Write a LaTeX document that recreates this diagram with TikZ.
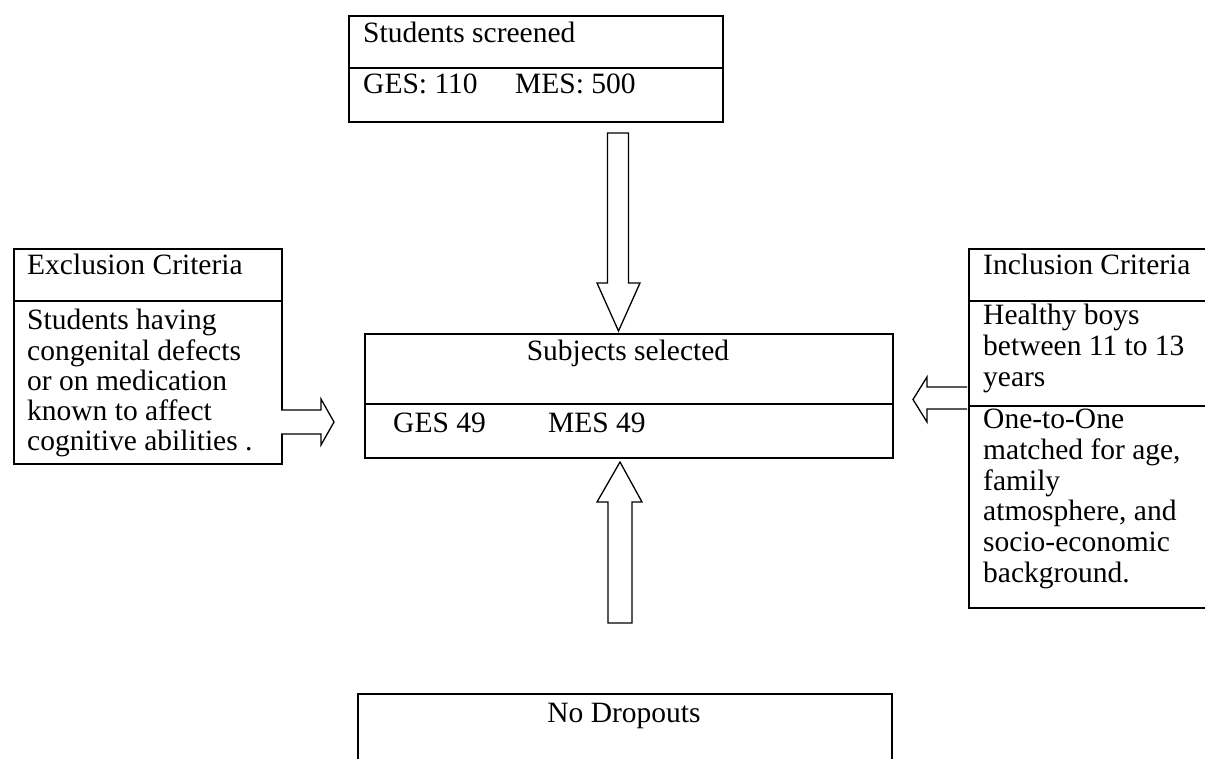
\documentclass[tikz,border=0pt]{standalone}
\usepackage{fontspec}
\setmainfont{Liberation Serif}
\newcommand{\fs}{\fontsize{29.5pt}{30.8pt}\selectfont}
\begin{document}
\begin{tikzpicture}[x=1pt,y=-1pt,
  box/.style={draw=black,line width=1.7pt,inner sep=0pt,anchor=north west},
  sep/.style={draw=black,line width=1.7pt},
  blk/.style={draw=black,line width=1.3pt,fill=white,line join=miter},
  txt/.style={inner sep=0pt,anchor=base west,font=\fs},
  ctxt/.style={inner sep=0pt,anchor=base,font=\fs},
]
\useasboundingbox (0,0) rectangle (1205,759);
\clip (0,0) rectangle (1205,759);
\fill[white] (0,0) rectangle (1205,759);

% boxes
\node[box,minimum width=374pt,minimum height=106pt] (screen) at (348,15) {};
\draw[sep] (screen.west |- 0,68) -- (screen.east |- 0,68);
\node[box,minimum width=528pt,minimum height=124pt] (selected) at (364,333) {};
\draw[sep] (selected.west |- 0,404) -- (selected.east |- 0,404);
\node[box,minimum width=268pt,minimum height=215pt] (excl) at (13,248) {};
\draw[sep] (excl.west |- 0,301) -- (excl.east |- 0,301);
\node[box,minimum width=250pt,minimum height=359pt] (incl) at (968,248) {};
\draw[sep] (incl.west |- 0,301) -- (incl.east |- 0,301);
\draw[sep] (incl.west |- 0,406) -- (incl.east |- 0,406);
\node[box,minimum width=534pt,minimum height=100pt] (drop) at (357,693) {};

% block arrows
\draw[blk] (607.5,133) -- (628.5,133) -- (628.5,283) -- (640,283) -- (618.5,331) -- (597,283) -- (607.5,283) -- cycle;
\draw[blk] (608,623) -- (632,623) -- (632,502) -- (642,502) -- (620,462) -- (597,502) -- (608,502) -- cycle;
\draw[blk] (281,410) -- (321,410) -- (321,399) -- (334,422) -- (321,445) -- (321,434) -- (281,434);
\draw[blk] (967,387) -- (927,387) -- (927,377) -- (913,399.5) -- (927,422) -- (927,409) -- (967,409);

% texts
\node[txt] (s1) at (363,43) {Students screened};
\node[txt] (s2) at (363,94) {GES: 110};
\node[txt] (s3) at (515,94) {MES: 500};

\node[ctxt] (m1) at (628,360) {Subjects selected};
\node[txt] (m2) at (393,432) {GES 49};
\node[txt] (m3) at (548,432) {MES 49};

\node[txt] (e0) at (27,275) {Exclusion Criteria};
\node[txt] (e1) at (27,330) {Students having};
\node[txt] (e2) at (27,360) {congenital defects};
\node[txt] (e3) at (27,390) {or on medication};
\node[txt] (e4) at (27,420) {known to affect};
\node[txt] (e5) at (27,450) {cognitive abilities .};

\node[txt] (i0) at (983,275) {Inclusion Criteria};
\node[txt] (i1) at (983,325) {Healthy boys};
\node[txt] (i2) at (983,355.5) {between 11 to 13};
\node[txt] (i3) at (983,386) {years};
\node[txt] (i4) at (983,428) {One-to-One};
\node[txt] (i5) at (983,459) {matched for age,};
\node[txt] (i6) at (983,490) {family};
\node[txt] (i7) at (983,520) {atmosphere, and};
\node[txt] (i8) at (983,551) {socio-economic};
\node[txt] (i9) at (983,582) {background.};

\node[ctxt] (d1) at (624,722) {No Dropouts};
\end{tikzpicture}
\end{document}
